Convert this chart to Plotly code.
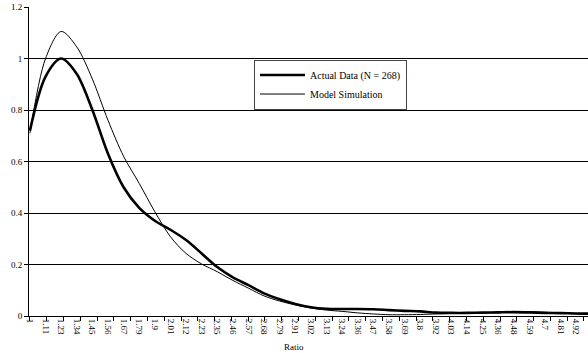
import plotly.graph_objects as go

categories = ["1", "1.11", "1.23", "1.34", "1.45", "1.56", "1.67", "1.79", "1.9", "2.01",
              "2.12", "2.23", "2.35", "2.46", "2.57", "2.68", "2.79", "2.91", "3.02", "3.13",
              "3.24", "3.36", "3.47", "3.58", "3.69", "3.8", "3.92", "4.03", "4.14", "4.25",
              "4.36", "4.48", "4.59", "4.7", "4.81", "4.92", "5.03"]

actual = [0.72, 0.93, 1.0, 0.94, 0.80, 0.63, 0.50, 0.42, 0.37, 0.335,
          0.295, 0.243, 0.19, 0.15, 0.12, 0.088, 0.065, 0.047, 0.034, 0.028,
          0.027, 0.027, 0.026, 0.023, 0.02, 0.018, 0.013, 0.012, 0.012, 0.013,
          0.014, 0.015, 0.014, 0.012, 0.011, 0.01, 0.009]

model = [0.71, 1.0, 1.105, 1.045, 0.92, 0.76, 0.62, 0.515, 0.405, 0.308,
         0.243, 0.202, 0.172, 0.138, 0.108, 0.078, 0.058, 0.043, 0.031, 0.023,
         0.018, 0.012, 0.008, 0.005, 0.005, 0.006, 0.008, 0.01, 0.011, 0.012,
         0.013, 0.015, 0.016, 0.014, 0.011, 0.008, 0.006]

y_ticks = [0, 0.2, 0.4, 0.6, 0.8, 1, 1.2]
y_tick_text = ["0", "0.2", "0.4", "0.6", "0.8", "1", "1.2"]

FONT = "Liberation Serif, Times New Roman, serif"
idx = list(range(len(categories)))
x_min = -0.06
x_max = 35.75
tick_step = 1.0755

fig = go.Figure()
fig.add_trace(go.Scatter(x=idx, y=actual, mode="lines", name="Actual Data (N = 268)",
                         line=dict(color="black", width=2.6, shape="spline", smoothing=0.9)))
fig.add_trace(go.Scatter(x=idx, y=model, mode="lines", name="Model Simulation",
                         line=dict(color="black", width=1, shape="spline", smoothing=0.9)))
# invisible trace to carry the tick-mark axis
fig.add_trace(go.Scatter(x=[0], y=[0], xaxis="x2", mode="markers", marker=dict(opacity=0),
                         showlegend=False, hoverinfo="skip"))

fig.update_layout(
    width=588, height=353,
    margin=dict(l=29, r=0, t=7, b=37),
    paper_bgcolor="white", plot_bgcolor="white",
    font=dict(family=FONT, size=9, color="black"),
    showlegend=True,
    legend=dict(x=0.4025, y=0.83, xanchor="left", yanchor="top",
                bordercolor="#444444", borderwidth=1, bgcolor="white",
                font=dict(family=FONT, size=10, color="black"),
                itemwidth=45, tracegroupgap=0),
    xaxis=dict(range=[x_min, x_max], tickmode="array", tickvals=idx, ticktext=categories,
               tickangle=90, ticks="", showgrid=False, zeroline=False,
               showline=True, linecolor="black", linewidth=1,
               tickfont=dict(family=FONT, size=9, color="black")),
    xaxis2=dict(range=[x_min, x_max], overlaying="x", anchor="y", side="bottom",
                tickmode="array", tickvals=[k * tick_step for k in range(34)],
                showticklabels=False, ticks="outside", ticklen=4, tickcolor="black",
                tickwidth=1, showgrid=False, zeroline=False, showline=False),
    yaxis=dict(range=[0, 1.2], tickmode="array", tickvals=y_ticks, ticktext=y_tick_text,
               ticks="outside", ticklen=4, tickcolor="black",
               showgrid=True, gridcolor="black", gridwidth=1, zeroline=False,
               showline=True, linecolor="black", linewidth=1,
               tickfont=dict(family=FONT, size=9, color="black")),
    annotations=[dict(text="Ratio", xref="paper", yref="paper", x=0.474, y=-0.1003,
                      xanchor="center", yanchor="middle", showarrow=False,
                      font=dict(family=FONT, size=9, color="black"))],
)

fig.write_html("out.html")
